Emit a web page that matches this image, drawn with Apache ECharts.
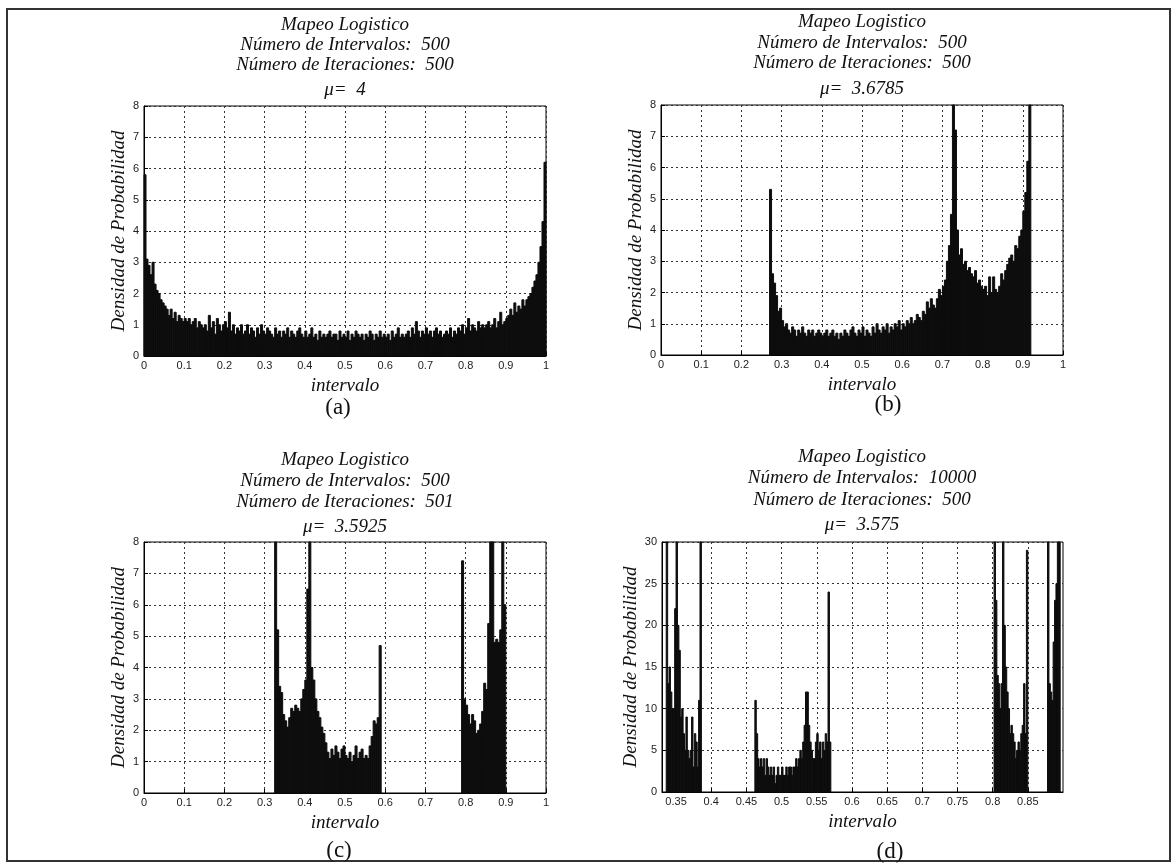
<!DOCTYPE html>
<html>
<head>
<meta charset="utf-8">
<script src="https://cdn.jsdelivr.net/npm/echarts@6/dist/echarts.min.js"></script>
<style>
  html, body { margin: 0; padding: 0; background: #ffffff; }
  #chart { width: 1176px; height: 865px; }
</style>
</head>
<body>
<div id="chart"></div>
<script>
// histogram bins: start of first bin, bin width, density per bin
var binA = 0.005;
var startA = 0;
var densA = [
  5.8, 3.1, 2.9, 2.6, 3.0, 2.3, 2.1, 2.0, 1.8, 1.7,
  1.6, 1.5, 1.3, 1.5, 1.2, 1.4, 1.1, 1.3, 1.2, 1.1,
  1.2, 1.1, 1.2, 1.0, 1.1, 1.2, 0.9, 1.1, 1.0, 0.9,
  1.0, 0.8, 1.3, 0.9, 1.1, 0.7, 1.2, 1.0, 0.8, 1.0,
  1.1, 0.9, 1.4, 0.8, 1.0, 0.7, 0.9, 0.8, 1.0, 0.7,
  0.8, 1.0, 0.7, 0.9, 0.8, 0.6, 0.9, 0.7, 1.0, 0.8,
  0.7, 0.9, 0.8, 0.7, 0.6, 0.9, 0.7, 0.8, 0.6, 0.8,
  0.7, 0.9, 0.6, 0.8, 0.7, 0.6, 0.8, 0.9, 0.7, 0.6,
  0.8, 0.6, 0.7, 0.9, 0.6, 0.7, 0.5, 0.8, 0.6, 0.7,
  0.6, 0.7, 0.8, 0.6, 0.7, 0.7, 0.5, 0.8, 0.6, 0.7,
  0.6, 0.8, 0.5, 0.7, 0.6, 0.8, 0.7, 0.6, 0.7, 0.5,
  0.7, 0.6, 0.8, 0.7, 0.5, 0.7, 0.6, 0.8, 0.6, 0.7,
  0.6, 0.7, 0.5, 0.8, 0.6, 0.7, 0.9, 0.6, 0.7, 0.6,
  0.7, 0.8, 0.6, 0.9, 0.7, 1.1, 0.8, 0.6, 0.8, 0.7,
  0.9, 0.7, 0.8, 0.6, 0.8, 0.9, 0.7, 0.8, 0.6, 0.7,
  0.8, 0.7, 0.9, 0.6, 0.8, 0.7, 0.9, 0.8, 1.0, 0.7,
  0.9, 1.2, 0.8, 1.0, 0.9, 0.8, 1.1, 0.9, 1.0, 0.9,
  1.0, 1.1, 0.9, 1.0, 1.2, 0.9, 1.1, 1.4, 1.0, 1.1,
  1.2, 1.3, 1.5, 1.3, 1.7, 1.4, 1.6, 1.5, 1.8, 1.6,
  1.8, 1.9, 2.0, 2.2, 2.4, 2.6, 3.0, 3.5, 4.3, 6.2
];

var binB = 0.005;
var startB = 0.27;
var densB = [
  5.3, 2.6, 2.3, 1.9, 1.4, 1.5, 1.1, 0.9, 1.0, 0.8,
  0.7, 0.9, 0.8, 0.6, 0.8, 0.7, 0.9, 0.7, 0.6, 0.8,
  0.7, 0.8, 0.6, 0.7, 0.8, 0.7, 0.6, 0.7, 0.8, 0.6,
  0.7, 0.8, 0.6, 0.7, 0.5, 0.7, 0.6, 0.8, 0.7, 0.6,
  0.8, 0.9, 0.7, 0.6, 0.8, 0.7, 0.9, 0.6, 0.8, 0.7,
  0.6, 0.9, 0.7, 1.0, 0.8, 0.7, 0.9, 0.8, 1.0, 0.7,
  0.9, 0.8, 1.0, 0.9, 1.1, 0.8, 1.0, 0.9, 1.1, 1.0,
  1.2, 1.0, 1.1, 1.3, 1.2, 1.1, 1.4, 1.3, 1.7, 1.5,
  1.8, 1.6, 1.5, 1.8, 2.1, 1.9, 2.2, 2.4, 3.0, 3.5,
  4.5, 9.0, 7.2, 4.0, 3.2, 3.4, 2.9, 3.0, 2.7, 2.8,
  2.6, 2.5, 2.7, 2.3, 2.4, 2.2, 2.1, 2.2, 1.9, 2.5,
  2.0, 2.5, 2.1, 2.0, 2.2, 2.6, 2.4, 2.7, 2.9, 3.1,
  3.2, 3.0, 3.5, 3.4, 3.8, 4.0, 4.6, 5.2, 6.2, 9.0
];

var binC = 0.005;
var startC1 = 0.325;
var densC1 = [
  9.0, 5.2, 3.4, 3.2, 2.5, 2.3, 2.1, 2.4, 2.7, 2.6,
  2.8, 2.7, 2.6, 3.0, 3.3, 3.6, 6.5, 9.0, 4.0, 3.6,
  3.0, 2.6, 2.4, 2.1, 1.9, 1.6, 1.3, 1.1, 1.4, 1.2,
  1.5, 1.3, 1.1, 1.4, 1.5, 1.2, 1.1, 1.3, 1.0, 1.2,
  1.5, 1.1, 1.3, 1.4, 1.1, 1.2, 1.1, 1.5, 1.8, 2.3,
  2.2, 2.4, 4.7
];
var startC2 = 0.79;
var densC2 = [
  7.4, 3.0, 2.8, 2.5, 2.2, 2.5, 2.3, 1.9, 2.0, 2.2,
  2.6, 3.5, 3.3, 5.4, 9.0, 9.0, 4.8, 4.9, 4.8, 5.2,
  9.0, 6.0
];

var binD = 0.002;
var startD1 = 0.336;
var densD1 = [32, 13, 15, 12, 10, 10, 22, 32, 20, 17, 9, 10, 7, 5, 9, 5, 4, 5, 9, 3, 7, 6, 3, 11, 32];
var startD2 = 0.462;
var densD2 = [
  11, 7, 4, 3, 4, 3, 4, 2, 4, 3, 2, 3, 2, 3, 1, 2, 3, 2, 2, 3,
  2, 2, 3, 2, 3, 3, 2, 3, 3, 4, 3, 4, 5, 4, 6, 8, 12, 12, 8, 6,
  5, 4, 4, 6, 7, 5, 6, 4, 6, 5, 7, 6, 24, 6
];
var startD3 = 0.802;
var densD3 = [32, 23, 14, 13, 10, 13, 32, 20, 15, 12, 10, 7, 8, 7, 6, 4, 5, 6, 5, 7, 8, 13, 7, 29];
var startD4 = 0.878;
var densD4 = [32, 13, 12, 11, 18, 23, 25, 32, 32];

var ticksD = [0.35, 0.4, 0.45, 0.5, 0.55, 0.6, 0.65, 0.7, 0.75, 0.8, 0.85];

var titlesTop = [
  ['Mapeo Logistico', 'Número de Intervalos:  500', 'Número de Iteraciones:  500', 'μ=  4'],
  ['Mapeo Logistico', 'Número de Intervalos:  500', 'Número de Iteraciones:  500', 'μ=  3.6785'],
  ['Mapeo Logistico', 'Número de Intervalos:  500', 'Número de Iteraciones:  501', 'μ=  3.5925'],
  ['Mapeo Logistico', 'Número de Intervalos:  10000', 'Número de Iteraciones:  500', 'μ=  3.575']
];
var panelTags = ['(a)', '(b)', '(c)', '(d)'];

function makeBins(start, width, vals) {
  var out = [];
  for (var i = 0; i < vals.length; i++) {
    out.push([start + i * width, start + (i + 1) * width, vals[i]]);
  }
  return out;
}

var histA = makeBins(startA, binA, densA);
var histB = makeBins(startB, binB, densB);
var histC = makeBins(startC1, binC, densC1).concat(makeBins(startC2, binC, densC2));
var histD = makeBins(startD1, binD, densD1)
  .concat(makeBins(startD2, binD, densD2))
  .concat(makeBins(startD3, binD, densD3))
  .concat(makeBins(startD4, binD, densD4));

var grids = [
  { left: 144, top: 106, width: 402, height: 250 },
  { left: 661, top: 105, width: 402, height: 250 },
  { left: 144, top: 542, width: 402, height: 251 },
  { left: 662, top: 542, width: 401, height: 250 }
];

function renderHist(params, api) {
  var p0 = api.coord([api.value(0), api.value(2)]);
  var p1 = api.coord([api.value(1), 0]);
  var cs = params.coordSys;
  var shape = echarts.graphic.clipRectByRect(
    { x: p0[0], y: p0[1], width: p1[0] - p0[0], height: p1[1] - p0[1] },
    { x: cs.x, y: cs.y, width: cs.width, height: cs.height }
  );
  return shape && {
    type: 'rect',
    shape: shape,
    style: { fill: '#0d0d0d', stroke: '#0d0d0d', lineWidth: 1 }
  };
}

var serifItalic = 'italic 19px "Liberation Serif", "DejaVu Serif", serif';
var labelStyle = { color: '#222', fontSize: 11, fontFamily: '"Liberation Sans", Arial, sans-serif' };
var gridLine = { show: true, lineStyle: { color: '#333', type: [2, 3], width: 1 } };
var nameStyle = { fontFamily: '"Liberation Serif", serif', fontStyle: 'italic', fontSize: 19, color: '#111' };

function xAxisFor(i) {
  var ax = {
    type: 'value', gridIndex: i, min: 0, max: 1, interval: 0.1,
    name: 'intervalo', nameLocation: 'middle', nameGap: 20, nameTextStyle: nameStyle,
    axisLine: { show: true, lineStyle: { color: '#000' } },
    axisTick: { show: true, inside: true, length: 4, lineStyle: { color: '#000' } },
    axisLabel: Object.assign({ margin: 4 }, labelStyle),
    splitLine: gridLine
  };
  if (i === 3) {
    ax.min = 0.33; ax.max = 0.9; delete ax.interval;
    ax.axisTick.customValues = ticksD;
    ax.axisLabel.customValues = ticksD;
  }
  return ax;
}

function yAxisFor(i) {
  var big = i === 3;
  return {
    type: 'value', gridIndex: i, min: 0, max: big ? 30 : 8, interval: big ? 5 : 1,
    name: 'Densidad de Probabilidad', nameLocation: 'middle', nameGap: big ? 22 : 16,
    nameTextStyle: nameStyle,
    axisLine: { show: true, lineStyle: { color: '#000' } },
    axisTick: { show: true, inside: true, length: 4, lineStyle: { color: '#000' } },
    axisLabel: Object.assign({ margin: 5 }, labelStyle),
    splitLine: gridLine
  };
}

var titleCenters = [345, 862, 345, 862];
var titleRows = [[25, 45, 65, 90], [22, 43, 63, 89], [460, 481, 502, 527], [457, 478, 500, 525]];
var tagPos = [[338, 408], [888, 405], [339, 851], [890, 852]];

var graphics = [{
  type: 'rect', silent: true,
  shape: { x: 7, y: 9, width: 1163, height: 852 },
  style: { fill: 'none', stroke: '#333', lineWidth: 2 }
}];
for (var p = 0; p < 4; p++) {
  for (var r = 0; r < 4; r++) {
    graphics.push({
      type: 'text', silent: true,
      style: {
        text: titlesTop[p][r], x: titleCenters[p], y: titleRows[p][r],
        align: 'center', verticalAlign: 'middle', font: serifItalic, fill: '#111'
      }
    });
  }
  graphics.push({
    type: 'text', silent: true,
    style: {
      text: panelTags[p], x: tagPos[p][0], y: tagPos[p][1],
      align: 'center', verticalAlign: 'middle',
      font: '23px "Liberation Serif", serif', fill: '#111'
    }
  });
}

var myChart = echarts.init(document.getElementById('chart'));
var option = {
  backgroundColor: '#ffffff',
  animation: false,
  grid: grids.map(function (g) {
    return Object.assign({ show: true, borderColor: '#000', borderWidth: 1, backgroundColor: '#fff' }, g);
  }),
  xAxis: [0, 1, 2, 3].map(xAxisFor),
  yAxis: [0, 1, 2, 3].map(yAxisFor),
  series: [histA, histB, histC, histD].map(function (d, i) {
    return {
      type: 'custom', xAxisIndex: i, yAxisIndex: i,
      renderItem: renderHist, encode: { x: [0, 1], y: 2 },
      data: d
    };
  }),
  graphic: graphics
};
myChart.setOption(option);
</script>
</body>
</html>
